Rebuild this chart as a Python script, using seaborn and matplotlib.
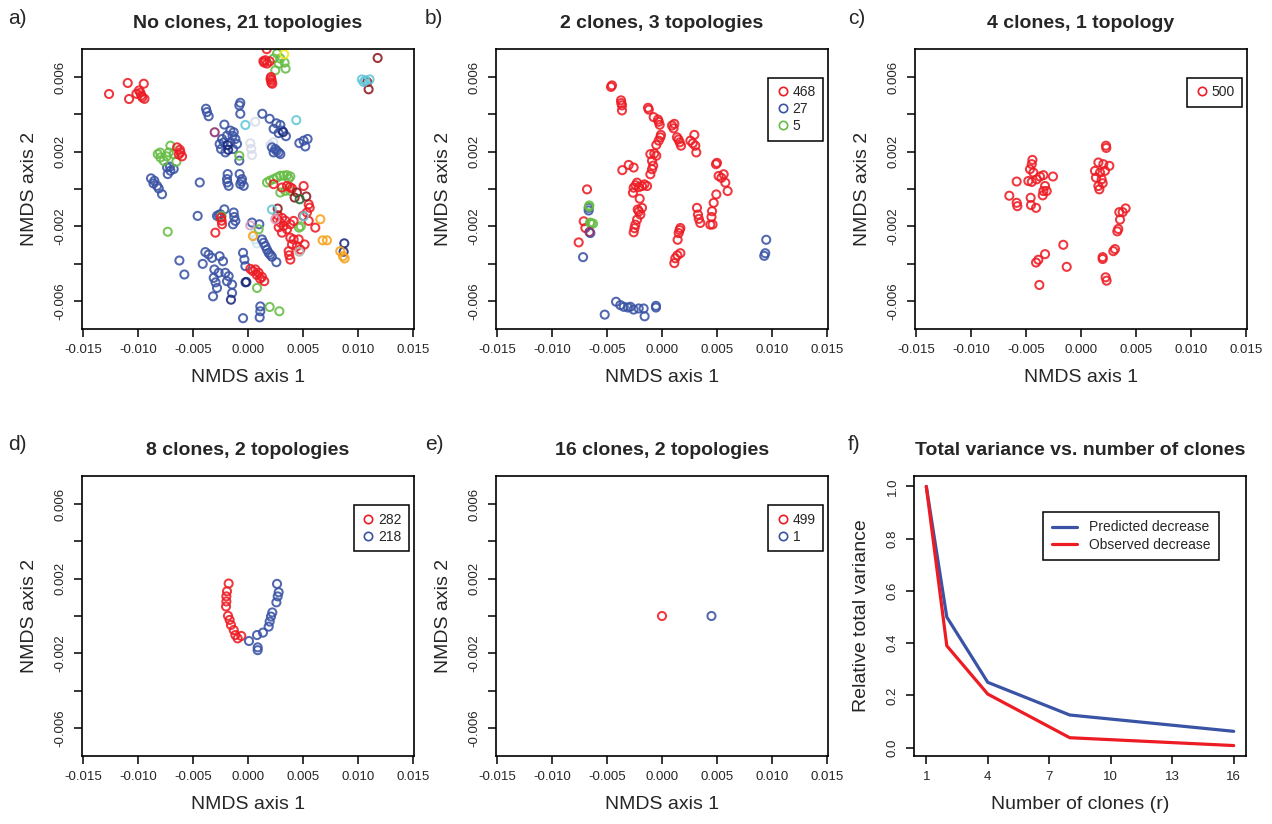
import numpy as np
import pandas as pd
import matplotlib
matplotlib.use("Agg")
import matplotlib.pyplot as plt
from matplotlib.lines import Line2D
import seaborn as sns

sns.set_style("ticks")
plt.rcParams["font.family"] = ["Liberation Sans", "DejaVu Sans"]

RED = "#ED1C24"
BLUE = "#3A53A4"
GREEN = "#66BD45"
NAVY = "#1B2A7A"
DARKRED = "#8E1A1E"
CYAN = "#62C6DA"
YELLOW = "#F2E820"
ORANGE = "#F7A21B"
DARKGREEN = "#1E6B34"
PURPLE = "#8E2D6A"
LAVENDER = "#D9DCEB"
LIGHTCYAN = "#CDE6EF"
GRAY = "#B5B5B5"
PINK = "#D9A0C0"

# ---- panel a: NMDS coordinates (units of 1e-3), one list per topology colour
a_red = [(-12.64, 5.09), (-10.94, 5.68), (-10.82, 4.82), (-10.15, 5.10), (-9.91, 5.28),
         (-9.70, 5.01), (-9.48, 5.64), (-9.42, 4.83), (-9.61, 4.91), (-9.79, 5.16),
         (1.70, 7.49), (1.48, 6.77), (1.73, 6.72), (1.97, 6.84), (1.58, 6.90), (1.40, 6.85),
         (2.09, 6.00), (2.15, 5.82), (2.21, 5.64), (2.05, 5.90), (2.12, 5.70),
         (-6.45, 2.23), (-6.15, 1.96), (-6.00, 1.75), (-6.20, 2.10), (-6.30, 1.85),
         (2.33, 0.26), (3.09, 0.08), (3.55, 0.17), (4.00, 0.03), (3.80, 0.10), (5.06, 0.16),
         (5.52, -0.82), (5.61, -1.00),
         (2.64, -1.62), (2.94, -1.80), (3.24, -1.98), (3.55, -2.16), (3.09, -2.34), (3.85, -1.89),
         (2.79, -2.05), (3.40, -1.70), (2.70, -1.40), (3.10, -1.55),
         (5.36, -1.26), (5.00, -1.44), (5.52, -1.71), (6.12, -2.07), (4.15, -1.71),
         (3.85, -2.61), (4.15, -2.70), (4.00, -2.97), (3.70, -3.33), (3.85, -3.78), (4.45, -3.06),
         (4.76, -3.24), (5.15, -2.97), (4.61, -2.70), (3.75, -3.55),
         (-2.45, -1.53), (-2.36, -1.89), (-2.97, -2.34), (-2.40, -1.70),
         (0.21, -4.28), (0.67, -4.31), (0.97, -4.49), (1.27, -4.71), (1.48, -4.94), (0.80, -4.60),
         (0.45, -4.40), (1.10, -4.80)]
a_blue = [(-3.82, 4.30), (-3.73, 4.12), (-3.58, 3.90), (-0.70, 4.62), (-0.79, 4.48), (-0.70, 4.03),
          (1.30, 4.03), (1.97, 3.76), (2.58, 3.52), (2.94, 3.43), (2.33, 3.22), (2.79, 2.99),
          (3.09, 3.13), (3.45, 2.83), (2.18, 2.23), (2.48, 2.14), (2.33, 1.96), (2.79, 1.96),
          (2.94, 1.87), (2.60, 2.05), (4.67, 2.46), (5.06, 2.59), (5.42, 2.68), (5.21, 2.28),
          (-2.15, 3.45), (-1.61, 3.13), (-1.30, 3.04), (-1.91, 2.86), (-2.36, 2.68), (-2.58, 2.41),
          (-2.45, 2.14), (-2.06, 1.96), (-1.61, 2.50), (-1.15, 2.68), (-1.00, 2.41), (-1.36, 2.14),
          (-2.20, 2.50), (-1.40, 2.85), (-0.79, 1.52),
          (-7.36, 1.16), (-7.06, 0.98), (-7.30, 0.80), (-6.76, 1.07), (-7.10, 1.20),
          (-8.82, 0.57), (-8.52, 0.44), (-8.27, 0.17), (-8.12, 0.03), (-7.82, -0.28), (-8.60, 0.30),
          (-4.39, 0.35), (-1.85, 0.80), (-1.91, 0.53), (-1.76, 0.17), (-1.88, 0.35),
          (-0.76, 0.80), (-0.55, 0.53), (-0.70, 0.26), (-0.39, 0.17), (-0.60, 0.40),
          (1.27, -2.70), (1.58, -3.06), (1.88, -3.42), (2.18, -3.63), (2.58, -3.92), (1.42, -2.88),
          (1.73, -3.25), (2.03, -3.52), (0.36, -1.80), (1.03, -1.89),
          (-2.82, -1.44), (-2.52, -1.35), (-2.15, -1.09), (-1.30, -1.26), (-1.15, -1.71), (-1.36, -1.89),
          (-4.58, -1.44), (-2.65, -1.40), (-1.25, -1.50),
          (-3.88, -3.38), (-3.58, -3.51), (-3.27, -3.69), (-2.58, -3.60), (-2.27, -3.87), (-4.12, -4.01),
          (-6.24, -3.83), (-5.79, -4.58),
          (-3.06, -4.31), (-2.67, -4.49), (-3.12, -4.76), (-2.82, -5.30), (-3.18, -5.75), (-2.06, -4.49),
          (-1.76, -4.67), (-1.91, -4.94), (-1.45, -5.12), (-1.45, -5.57), (-2.95, -5.00),
          (-0.45, -3.42), (-0.33, -3.78), (-0.24, -4.13),
          (1.12, -6.29), (1.12, -6.55), (1.06, -6.88), (-0.45, -6.92)]
a_green = [(2.64, 7.26), (2.94, 6.99), (3.33, 6.77), (2.48, 6.36), (3.42, 6.45), (2.79, 6.72), (2.33, 6.99),
           (-8.21, 1.87), (-7.97, 1.69), (-7.67, 1.51), (-7.06, 2.32), (-6.76, 1.87), (-7.21, 1.96),
           (-6.52, 1.46), (-7.40, 1.75), (-8.00, 1.95), (-0.79, 1.78),
           (1.73, 0.35), (2.33, 0.53), (2.94, 0.71), (3.55, 0.74), (3.85, 0.67), (2.64, 0.62),
           (3.24, 0.72), (2.00, 0.45), (3.70, 0.55), (2.94, -0.19), (3.39, -0.10), (3.85, -0.10),
           (4.64, -2.07), (4.80, -2.00), (0.97, -2.16), (-7.30, -2.29), (0.82, -5.30),
           (1.97, -6.32), (2.85, -6.55), (-2.40, -1.45)]
a_navy = [(-1.85, 2.35), (-1.80, 2.10), (3.20, 3.05), (8.76, -2.91), (8.70, -3.36),
          (-1.55, -5.93), (-0.15, -4.98), (-0.22, -5.00)]
a_darkred = [(11.79, 7.02), (10.85, 5.73), (10.97, 5.34), (4.45, -0.19), (4.24, -0.46),
             (5.30, -0.40), (2.70, -1.05)]
a_cyan = [(10.36, 5.87), (10.67, 5.82), (11.06, 5.87), (10.52, 5.73), (-0.24, 3.43),
          (4.39, 3.69), (2.18, -1.10), (5.09, -1.46)]
a_yellow = [(3.30, 7.22)]
a_orange = [(6.58, -1.62), (6.79, -2.75), (7.18, -2.75), (8.39, -3.33), (8.64, -3.60),
            (8.79, -3.72), (0.45, -2.52)]
a_darkgreen = [(4.70, -0.55)]
a_purple = [(-3.03, 3.04)]
a_lavender = [(0.66, 3.60), (0.21, 2.45), (0.30, 2.15), (0.36, 1.82), (2.03, 2.36), (2.30, 2.50)]
a_lightcyan = [(0.67, -2.70), (0.82, -2.91), (0.60, -2.45)]
a_gray = [(4.67, -3.36)]
a_pink = [(2.48, -1.62), (0.20, -1.95)]

# ---- panel b
b_red = [(-4.64, 5.47), (-4.55, 5.55), (-3.73, 4.75), (-3.64, 4.48), (-3.64, 4.21), (-3.70, 4.60),
         (-1.27, 4.35), (-1.20, 4.25), (-0.76, 3.85), (-0.36, 3.72), (-0.21, 3.44), (-0.30, 3.60),
         (0.91, 3.40), (1.12, 3.49), (1.05, 3.25), (1.36, 2.77), (1.61, 2.50), (1.73, 2.32), (1.50, 2.65),
         (2.58, 2.59), (2.94, 2.90), (3.03, 2.32), (3.12, 1.96), (2.80, 2.45),
         (-0.15, 2.77), (-0.30, 2.59), (-0.52, 2.36), (-0.10, 2.90),
         (-1.06, 1.87), (-0.52, 1.78), (-0.91, 1.51), (-0.91, 1.06), (-1.06, 0.79), (-0.70, 1.90), (-0.80, 1.25),
         (-3.03, 1.29), (-3.61, 1.01), (-2.58, 1.15),
         (-2.27, 0.34), (-2.58, 0.07), (-2.64, -0.20), (-1.82, 0.16), (-1.36, 0.16), (-2.10, 0.10),
         (-2.40, 0.20), (-1.60, 0.25), (-2.03, -0.52),
         (-2.21, -1.10), (-1.82, -1.01), (-1.97, -1.37), (-2.27, -1.64), (-2.42, -1.91), (-2.58, -2.32),
         (-2.50, -2.10), (-2.10, -1.20),
         (1.67, -2.09), (1.52, -2.36), (1.42, -2.72), (1.60, -2.20),
         (1.67, -3.44), (1.21, -3.71), (1.12, -3.97), (1.40, -3.55),
         (3.18, -1.01), (3.27, -1.37), (3.48, -1.82), (3.35, -1.60),
         (4.91, 1.33), (5.15, 0.70), (5.61, 0.79), (5.76, 0.34), (5.97, -0.11), (5.40, 0.60), (5.00, 1.40),
         (4.94, -0.29), (4.70, -0.74), (4.55, -1.19), (4.39, -1.91), (4.60, -1.90), (4.50, -1.50),
         (-6.82, -0.02), (-7.12, -1.73), (-6.97, -2.09), (-7.58, -2.86)]
b_blue = [(-6.67, -1.01), (-6.67, -1.15), (-6.52, -2.36), (-7.18, -3.65), (9.48, -2.72), (9.39, -3.44),
          (9.30, -3.58), (-4.18, -6.04), (-3.79, -6.22), (-3.48, -6.31), (-2.88, -6.31), (-2.58, -6.46),
          (-2.12, -6.40), (-1.67, -6.40), (-1.58, -6.82), (-0.55, -6.26), (-0.55, -6.35), (-5.21, -6.73),
          (-3.10, -6.35)]
b_green = [(-6.61, -0.88), (-6.45, -1.85), (-6.27, -1.85), (-6.55, -1.80), (-6.65, -0.95)]
b_purple = [(-6.60, -2.30)]

# ---- panel c
c_red = [(-4.42, 1.56), (-4.48, 1.33), (-4.64, 1.06), (-4.33, 0.88), (-4.79, 0.43), (-4.48, 0.38),
         (-4.03, 0.52), (-3.73, 0.67), (-3.42, 0.74), (-3.27, 0.16), (-3.12, -0.11), (-3.42, -0.11),
         (-3.48, -0.34), (-2.55, 0.67), (-5.85, 0.40), (-6.52, -0.36), (-5.85, -0.74), (-5.79, -0.92),
         (-4.58, -0.47), (-4.55, -0.86), (-4.09, -1.01),
         (2.27, 2.32), (2.30, 2.20), (1.58, 1.42), (2.03, 1.33), (2.58, 1.24), (1.27, 0.97), (1.73, 0.88),
         (2.18, 0.97), (1.36, 0.61), (1.88, 0.52), (1.58, 0.16), (1.67, -0.02), (1.97, 0.31),
         (3.48, -1.24), (3.79, -1.24), (4.06, -1.04), (3.55, -1.64), (3.39, -2.14), (3.30, -2.27),
         (3.09, -3.22), (2.94, -3.33), (1.97, -3.65), (1.97, -3.75), (2.24, -4.73), (2.33, -4.91),
         (-1.61, -2.99), (-1.30, -4.17), (-3.27, -3.49), (-3.88, -3.79), (-4.09, -3.94), (-3.79, -5.14)]

# ---- panel d
d_red = [(-1.76, 1.74), (-1.91, 1.32), (-1.97, 1.05), (-1.97, 0.78), (-2.00, 0.51), (-1.82, 0.01),
         (-1.67, -0.21), (-1.55, -0.48), (-1.30, -0.75), (-1.15, -1.02), (-0.94, -1.20), (-0.61, -1.07)]
d_blue = [(0.09, -1.34), (0.82, -1.02), (1.36, -0.89), (0.88, -1.68), (0.88, -1.83), (1.88, -0.57),
          (1.97, -0.30), (2.09, -0.03), (2.21, 0.19), (2.58, 0.73), (2.70, 1.05), (2.79, 1.27), (2.64, 1.72)]

# ---- panel e
e_red = [(0.0, 0.0)]
e_blue = [(4.5, 0.0)]

# ---- panel f
clones = [1, 2, 4, 8, 16]
predicted = [1.0, 0.5, 0.25, 0.125, 0.0625]
observed = [1.0, 0.39, 0.205, 0.038, 0.008]

x_tick_vals = [-0.015, -0.010, -0.005, 0.0, 0.005, 0.010, 0.015]
x_tick_labels = ["-0.015", "-0.010", "-0.005", "0.000", "0.005", "0.010", "0.015"]
y_tick_vals = [-0.006, -0.004, -0.002, 0.0, 0.002, 0.004, 0.006]
y_tick_labels = ["-0.006", "", "-0.002", "", "0.002", "", "0.006"]

W, H = 1272, 824
fig = plt.figure(figsize=(W / 100, H / 100), dpi=100)


def add_ax(left, top, width=332, height=280):
    return fig.add_axes([left / W, 1 - (top + height) / H, width / W, height / H])


def style(ax):
    for sp in ax.spines.values():
        sp.set_visible(True)
        sp.set_linewidth(1.2)
        sp.set_color("black")
    ax.tick_params(direction="out", length=6, width=1.1, labelsize=9.5, pad=5, color="black")


def draw_points(ax, pts, color, alpha=0.88):
    df = pd.DataFrame(pts, columns=["x", "y"]) * 1e-3
    sns.scatterplot(data=df, x="x", y="y", ax=ax, s=34, color=color, facecolors="none",
                    edgecolor=color, linewidth=1.45, alpha=alpha, legend=False)


def nmds_axes(ax, title):
    style(ax)
    ax.set_xlim(-0.0151, 0.0151)
    ax.set_ylim(-0.0075, 0.0075)
    ax.set_xticks(x_tick_vals)
    ax.set_xticklabels(x_tick_labels)
    ax.set_yticks(y_tick_vals)
    ax.set_yticklabels(y_tick_labels, rotation=90, va="center")
    ax.set_xlabel("NMDS axis 1", fontsize=14, labelpad=9)
    ax.set_ylabel("NMDS axis 2", fontsize=14, labelpad=12)
    ax.set_title(title, fontsize=14, fontweight="bold", pad=15)


def point_legend(ax, colors, labels, anchor):
    handles = [Line2D([], [], ls="none", marker="o", mfc="none", mec=c, ms=6, mew=1.2) for c in colors]
    leg = ax.legend(handles, labels, loc="upper right", bbox_to_anchor=anchor, borderaxespad=0,
                    frameon=True, fancybox=False, edgecolor="black", fontsize=10, handletextpad=0.2,
                    labelspacing=0.2, borderpad=0.55, handlelength=1.0, framealpha=1)
    leg.get_frame().set_linewidth(1.1)


# a
ax = add_ax(82, 49)
for pts, col in [(a_lavender, LAVENDER), (a_lightcyan, LIGHTCYAN), (a_blue, BLUE), (a_navy, NAVY),
                 (a_green, GREEN), (a_red, RED), (a_darkred, DARKRED), (a_cyan, CYAN),
                 (a_yellow, YELLOW), (a_orange, ORANGE), (a_darkgreen, DARKGREEN),
                 (a_purple, PURPLE), (a_gray, GRAY), (a_pink, PINK)]:
    draw_points(ax, pts, col)
nmds_axes(ax, "No clones, 21 topologies")

# b
ax = add_ax(496, 49)
draw_points(ax, b_red, RED)
draw_points(ax, b_blue, BLUE)
draw_points(ax, b_green, GREEN)
draw_points(ax, b_purple, PURPLE)
nmds_axes(ax, "2 clones, 3 topologies")
point_legend(ax, [RED, BLUE, GREEN], ["468", "27", "5"], (0.986, 0.8975))

# c
ax = add_ax(915, 49)
draw_points(ax, c_red, RED)
nmds_axes(ax, "4 clones, 1 topology")
point_legend(ax, [RED], ["500"], (0.986, 0.8975))

# d
ax = add_ax(82, 476)
draw_points(ax, d_red, RED)
draw_points(ax, d_blue, BLUE)
nmds_axes(ax, "8 clones, 2 topologies")
point_legend(ax, [RED, BLUE], ["282", "218"], (0.986, 0.896))

# e
ax = add_ax(496, 476)
draw_points(ax, e_red, RED)
draw_points(ax, e_blue, BLUE)
nmds_axes(ax, "16 clones, 2 topologies")
point_legend(ax, [RED, BLUE], ["499", "1"], (0.986, 0.896))

# f
ax = add_ax(914, 476)
style(ax)
var_df = pd.DataFrame({
    "clones": clones * 2,
    "variance": predicted + observed,
    "series": ["Predicted decrease"] * len(clones) + ["Observed decrease"] * len(clones),
})
sns.lineplot(data=var_df, x="clones", y="variance", hue="series",
             palette={"Predicted decrease": BLUE, "Observed decrease": RED},
             linewidth=2.3, ax=ax, legend=False)
ax.set_xlim(0.4, 16.6)
ax.set_ylim(-0.032, 1.04)
ax.set_xticks([1, 4, 7, 10, 13, 16])
ax.set_yticks([0.0, 0.2, 0.4, 0.6, 0.8, 1.0])
ax.set_yticklabels(["0.0", "0.2", "0.4", "0.6", "0.8", "1.0"], rotation=90, va="center")
ax.set_xlabel("Number of clones (r)", fontsize=14, labelpad=9)
ax.set_ylabel("Relative total variance", fontsize=14, labelpad=12)
ax.set_title("Total variance vs. number of clones", fontsize=14, fontweight="bold", pad=15)
lh = [Line2D([], [], color=BLUE, lw=2.3), Line2D([], [], color=RED, lw=2.3)]
leg = ax.legend(lh, ["Predicted decrease", "Observed decrease"], loc="upper right",
                bbox_to_anchor=(0.919, 0.871), borderaxespad=0, frameon=True, fancybox=False,
                edgecolor="black", fontsize=10, handlelength=1.8, handletextpad=0.9,
                labelspacing=0.25, borderpad=0.6, framealpha=1)
leg.get_frame().set_linewidth(1.1)

for lbl, x, y in [("a)", 8, 18), ("b)", 425, 18), ("c)", 848, 18),
                  ("d)", 8, 444), ("e)", 425, 444), ("f)", 848, 444)]:
    fig.text(x / W, 1 - y / H, lbl, fontsize=15, va="center", ha="left")

fig.savefig("out.png", dpi=100)
